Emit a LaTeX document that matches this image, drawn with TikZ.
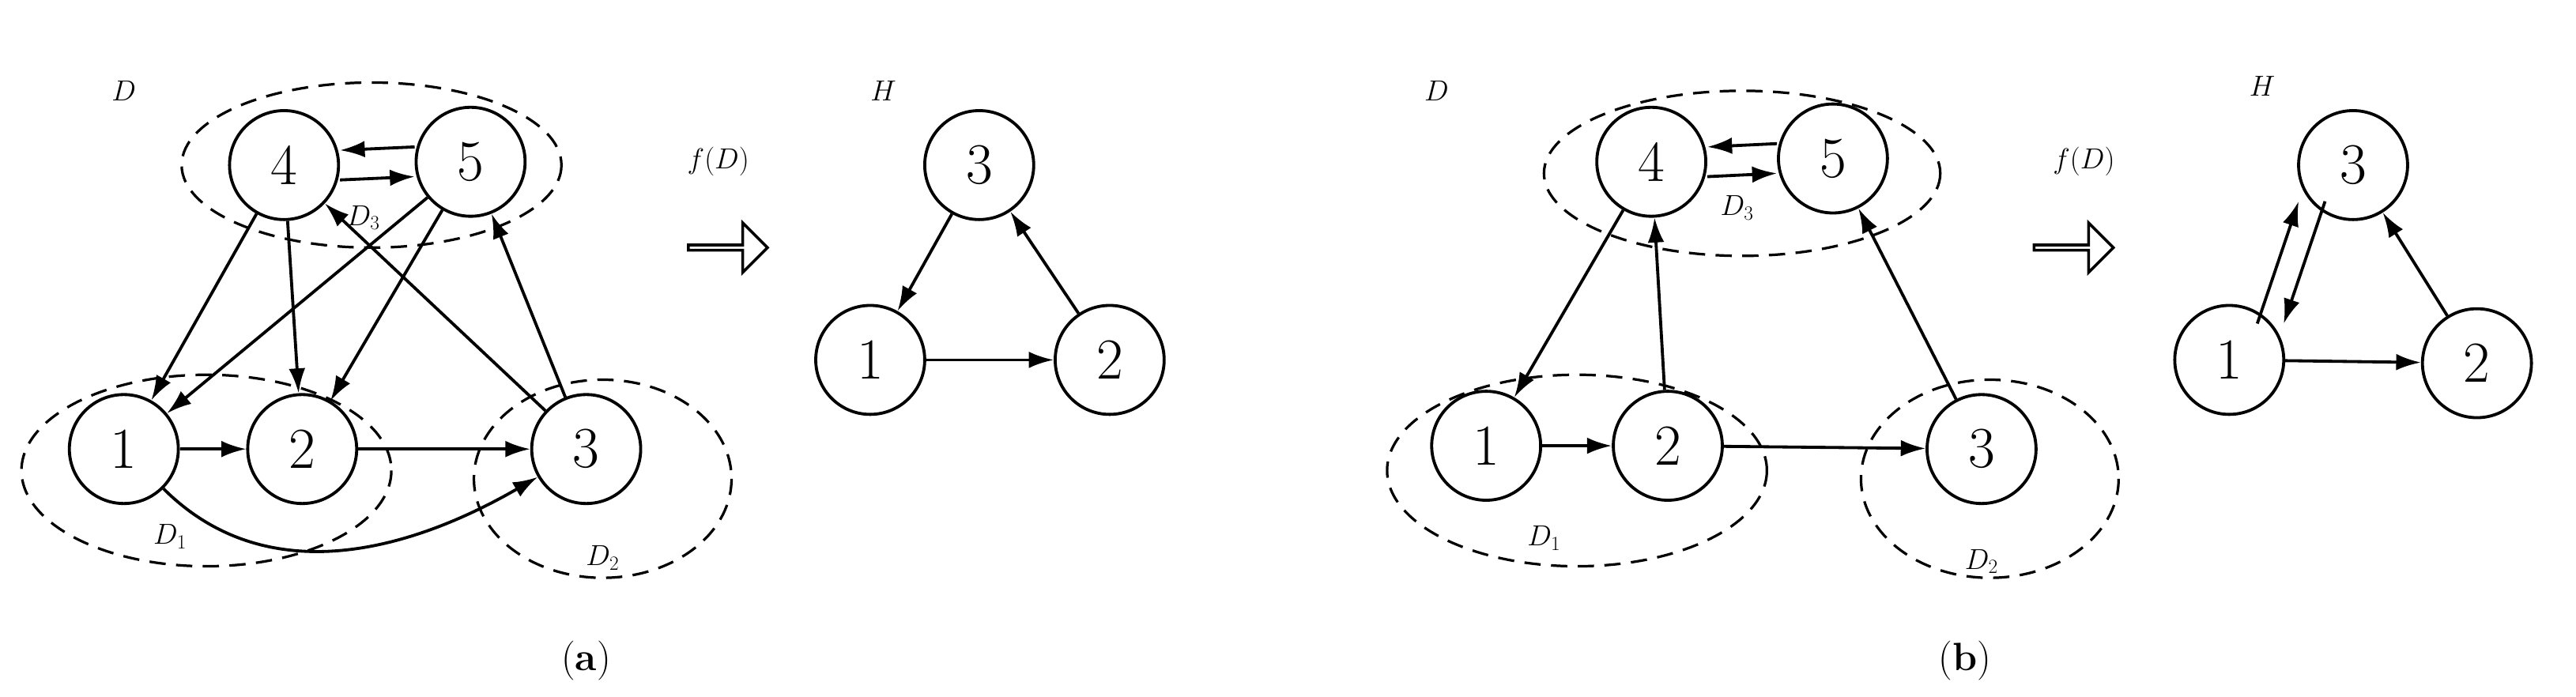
\documentclass[tikz,border=0pt]{standalone}
\usetikzlibrary{arrows.meta,shapes.arrows}
\begin{document}
\begin{tikzpicture}[x=0.05cm,y=-0.05cm,
  v/.style={circle,draw,line width=2.6pt,minimum size=3.3cm,inner sep=0pt,font=\fontsize{50}{60}\selectfont},
  e/.style={line width=2.6pt,-{Latex[length=0.75cm,width=0.5cm]}},
  grp/.style={draw,dashed,line width=2.2pt,dash pattern=on 14pt off 9pt},
  lab/.style={font=\fontsize{38}{46}\selectfont},
  sl/.style={font=\fontsize{24}{28}\selectfont},
  captxt/.style={font=\fontsize{34}{40}\selectfont},
  fat/.style={single arrow,draw,line width=2.4pt,minimum height=2.4cm,minimum width=1.5cm,single arrow head extend=0.35cm,inner sep=0pt}]
\useasboundingbox (0,0) rectangle (1560,422);
% ---------- panel (a)
\draw[grp] (225,100) ellipse [x radius=115,y radius=50];
\draw[grp] (125,285) ellipse [x radius=112,y radius=58];
\draw[grp] (365,290) ellipse [x radius=78,y radius=60];
\node[lab] (Da) at (75,55) {$D$};
\node[v,fill=white] (a4) at (172,100) {4};
\node[v,fill=white] (a5) at (285,98) {5};
\node[v,fill=white] (a1) at (75,272) {1};
\node[v,fill=white] (a2) at (183,272) {2};
\node[v,fill=white] (a3) at (355,272) {3};
\node[sl] (aD3) at (220,132) {$D_3$};
\node[sl] (aD1) at (103,325) {$D_1$};
\node[sl] (aD2) at (365,338) {$D_2$};
\draw[e] ([yshift=-0.45cm]a4.east) -- ([yshift=-0.45cm]a5.west);
\draw[e] ([yshift=0.45cm]a5.west) -- ([yshift=0.45cm]a4.east);
\draw[e] (a4) -- (a1);
\draw[e] (a4) -- (a2);
\draw[e] (a5) -- (a1);
\draw[e] (a5) -- (a2);
\draw[e] (a3) -- (a4);
\draw[e] (a3) -- (a5);
\draw[e] (a1) -- (a2);
\draw[e] (a2) -- (a3);
\draw[e] (a1) to[out=-45,in=-150] (a3);
\node[lab] (fa) at (435,98) {$f(D)$};
\node[fat] (ta) at (440,150) {};
\node[lab] (Ha) at (535,55) {$H$};
\node[v] (h3) at (593,100) {3};
\node[v] (h1) at (527,218) {1};
\node[v] (h2) at (672,218) {2};
\draw[e] (h3) -- (h1);
\draw[e] (h2) -- (h3);
\draw[e] (h1) -- (h2);
\node[captxt] (ca) at (355,400) {(\textbf{a})};
% ---------- panel (b)
\draw[grp] (1055,105) ellipse [x radius=120,y radius=50];
\draw[grp] (955,285) ellipse [x radius=115,y radius=58];
\draw[grp] (1205,290) ellipse [x radius=78,y radius=60];
\node[lab] (Db) at (870,55) {$D$};
\node[v,fill=white] (b4) at (1000,98) {4};
\node[v,fill=white] (b5) at (1110,96) {5};
\node[v,fill=white] (b1) at (900,270) {1};
\node[v,fill=white] (b2) at (1010,270) {2};
\node[v,fill=white] (b3) at (1200,272) {3};
\node[sl] (bD3) at (1052,126) {$D_3$};
\node[sl] (bD1) at (935,326) {$D_1$};
\node[sl] (bD2) at (1200,340) {$D_2$};
\draw[e] ([yshift=-0.45cm]b4.east) -- ([yshift=-0.45cm]b5.west);
\draw[e] ([yshift=0.45cm]b5.west) -- ([yshift=0.45cm]b4.east);
\draw[e] (b4) -- (b1);
\draw[e] (b2) -- (b4);
\draw[e] (b3) -- (b5);
\draw[e] (b1) -- (b2);
\draw[e] (b2) -- (b3);
\node[lab] (fb) at (1262,98) {$f(D)$};
\node[fat] (tb) at (1255,150) {};
\node[lab] (Hb) at (1370,52) {$H$};
\node[v] (k3) at (1425,100) {3};
\node[v] (k1) at (1350,218) {1};
\node[v] (k2) at (1500,220) {2};
\draw[e] ([xshift=-0.35cm,yshift=-0.1cm]k1.north east) -- ([xshift=-0.45cm,yshift=0.1cm]k3.south west);
\draw[e] ([xshift=0.35cm,yshift=0.1cm]k3.south west) -- ([xshift=0.45cm,yshift=-0.1cm]k1.north east);
\draw[e] (k2) -- (k3);
\draw[e] (k1) -- (k2);
\node[captxt] (cb) at (1190,400) {(\textbf{b})};
\end{tikzpicture}
\end{document}
